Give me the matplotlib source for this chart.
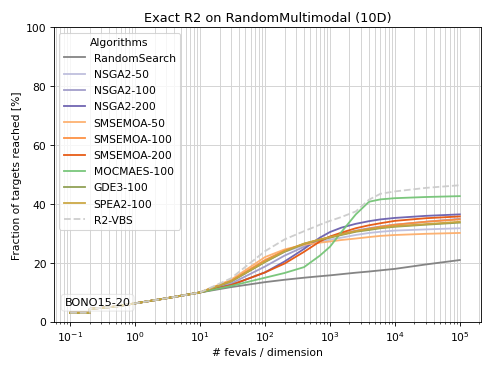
import matplotlib
matplotlib.use("Agg")
import matplotlib.pyplot as plt

# evaluations per dimension (shared grid for all runtime profiles)
fevals = [0.1, 0.2, 0.2, 0.5, 1, 3, 10, 30, 100, 200, 400, 700, 1000,
          1500, 2500, 4000, 6000, 10000, 30000, 100000]

# common early part of every profile
start = [3.1, 3.1, 4.4, 5.2, 6.3, 8.0, 10.0]

random_search = start + [11.8, 13.5, 14.3, 15.0, 15.5, 15.8, 16.2, 16.7, 17.1, 17.5, 18.0, 19.5, 21.0]
nsga2_50 = start + [13.6, 20.5, 23.8, 26.0, 27.2, 27.9, 28.6, 29.5, 30.2, 30.6, 31.0, 31.4, 31.8]
nsga2_100 = start + [13.0, 18.8, 22.5, 25.5, 27.6, 28.8, 29.8, 31.0, 31.8, 32.4, 33.0, 34.0, 35.0]
nsga2_200 = start + [12.5, 16.8, 20.5, 24.8, 28.6, 30.5, 32.0, 33.3, 34.2, 34.8, 35.3, 36.0, 36.5]
smsemoa_50 = start + [14.3, 22.0, 24.6, 26.2, 26.9, 27.3, 27.8, 28.3, 28.8, 29.2, 29.5, 29.9, 30.2]
smsemoa_100 = start + [13.9, 21.0, 24.2, 26.5, 27.9, 28.8, 29.8, 30.8, 31.6, 32.3, 33.0, 34.0, 34.8]
smsemoa_200 = start + [12.5, 16.8, 19.8, 23.8, 27.3, 29.0, 30.3, 31.8, 32.8, 33.5, 34.3, 35.2, 35.8]
mocmaes_100 = start + [12.2, 15.0, 16.6, 18.6, 22.5, 25.5, 30.5, 36.5, 40.8, 41.6, 42.0, 42.4, 42.7]
gde3_100 = start + [13.7, 20.3, 23.8, 26.5, 27.9, 28.6, 29.5, 30.6, 31.2, 31.8, 32.3, 33.0, 33.7]
spea2_100 = start + [13.8, 20.5, 24.0, 26.6, 28.0, 28.8, 29.7, 30.8, 31.5, 32.0, 32.5, 33.2, 34.0]
r2_vbs = start + [14.8, 24.0, 28.0, 30.8, 33.0, 34.3, 35.6, 37.5, 41.5, 43.5, 44.3, 45.5, 46.4]

algorithms = ["RandomSearch", "NSGA2-50", "NSGA2-100", "NSGA2-200",
              "SMSEMOA-50", "SMSEMOA-100", "SMSEMOA-200", "MOCMAES-100",
              "GDE3-100", "SPEA2-100", "R2-VBS"]
profiles = [random_search, nsga2_50, nsga2_100, nsga2_200,
            smsemoa_50, smsemoa_100, smsemoa_200, mocmaes_100,
            gde3_100, spea2_100, r2_vbs]
colors = ["#7f7f7f", "#bcbddc", "#9e9ac8", "#6a5fae",
          "#fdae6b", "#fd8d3c", "#e6550d", "#74c476",
          "#8c9d4e", "#c9a43d", "#cccccc"]

fig, ax = plt.subplots(figsize=(6.4, 4.8), dpi=77)

for name, values, color in zip(algorithms, profiles, colors):
    style = "--" if name == "R2-VBS" else "-"
    ax.plot(fevals, values, style, color=color, label=name, linewidth=1.7, alpha=0.95)

ax.set_xscale("log")
ax.set_xlim(10 ** -1.25, 10 ** 5.33)
ax.set_ylim(0, 100)
ax.grid(True, which="both", color="0.83", linewidth=0.9)
ax.set_xlabel("# fevals / dimension")
ax.set_ylabel("Fraction of targets reached [%]")
ax.set_title("Exact R2 on RandomMultimodal (10D)")
ax.legend(title="Algorithms", loc="upper left", labelspacing=0.58)
ax.text(0.025, 0.065, "BONO15-20", transform=ax.transAxes, va="center", fontsize=10.5,
        bbox=dict(boxstyle="round,pad=0.3", facecolor="white", edgecolor="0.85", alpha=0.6))

plt.tight_layout()
plt.savefig("out.png")
